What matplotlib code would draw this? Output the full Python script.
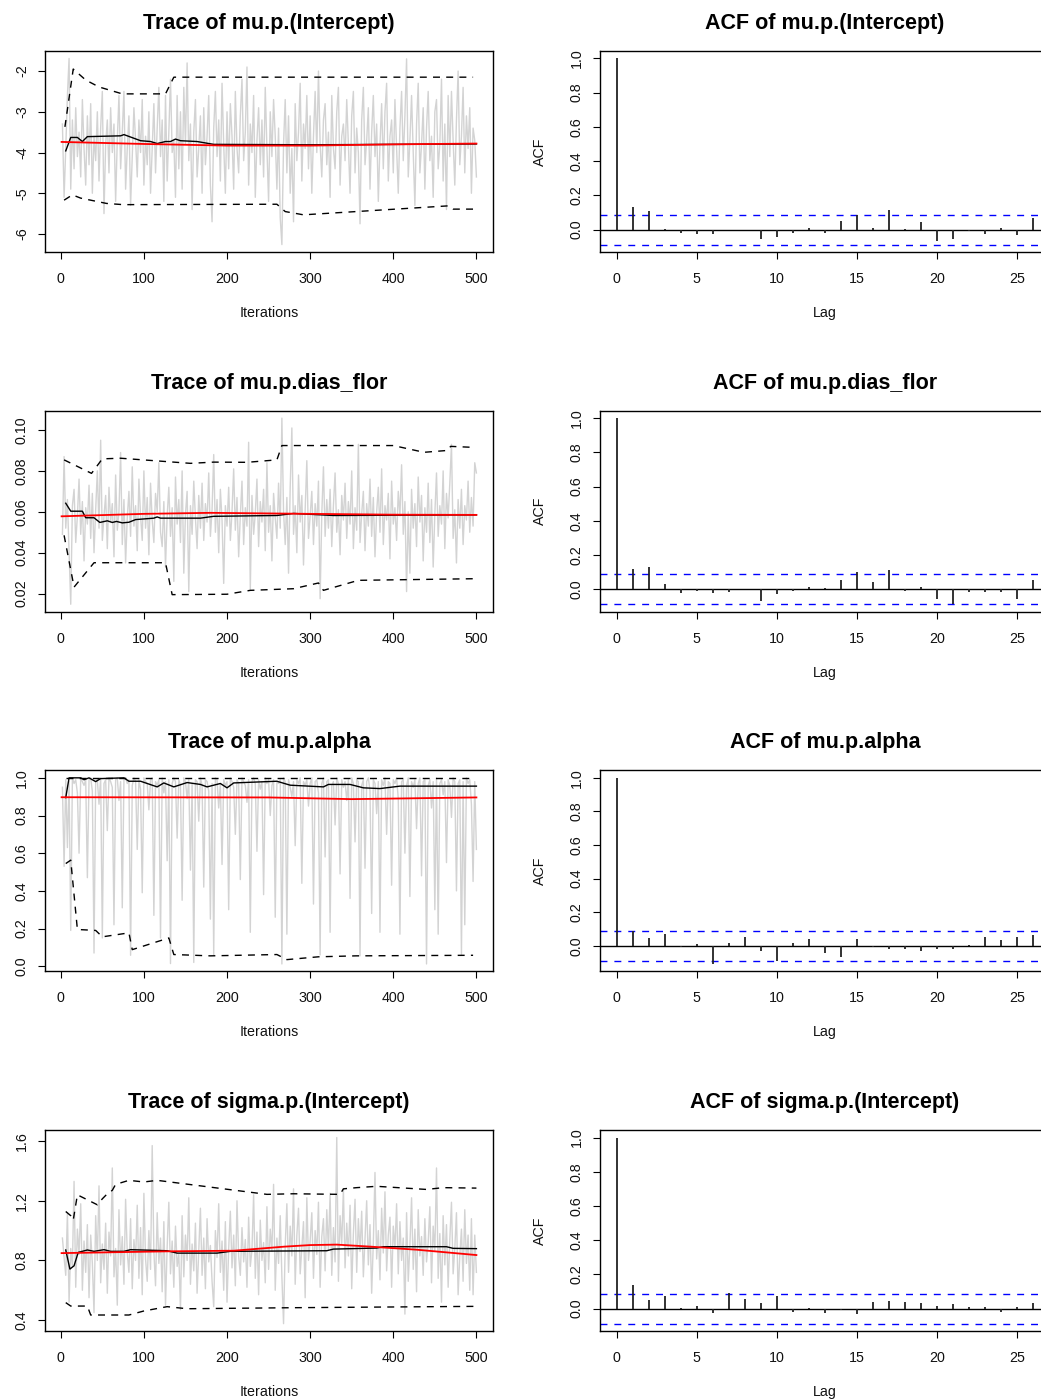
import numpy as np
import matplotlib
matplotlib.use("Agg")
import matplotlib.pyplot as plt

plt.rcParams['font.family'] = ['Liberation Sans', 'DejaVu Sans']
plt.rcParams['axes.unicode_minus'] = False

# ---------------- data ----------------
iters = list(range(2, 501, 2))  # sampled iterations (every 2nd of 500)

titles_trace = ["Trace of mu.p.(Intercept)", "Trace of mu.p.dias_flor",
                "Trace of mu.p.alpha", "Trace of sigma.p.(Intercept)"]
titles_acf = ["ACF of mu.p.(Intercept)", "ACF of mu.p.dias_flor",
              "ACF of mu.p.alpha", "ACF of sigma.p.(Intercept)"]

trace_int = [
    -3.3, -5.1, -3.9, -2.6, -1.69, -4.9, -3.2, -4.4, -2.9, -4.1,
    -3.5, -4.6, -2.7, -3.9, -4.8, -3.1, -4.3, -2.8, -5.0, -3.6,
    -4.2, -3.0, -4.7, -3.4, -2.5, -5.5, -3.8, -3.2, -4.5, -2.9,
    -4.0, -3.3, -5.2, -3.7, -2.6, -4.4, -3.5, -2.5, -4.9, -3.9,
    -3.1, -5.3, -4.1, -2.9, -3.7, -4.6, -3.2, -4.0, -2.7, -4.8,
    -3.6, -4.3, -3.0, -5.0, -3.9, -2.8, -4.5, -3.4, -2.4, -4.1,
    -3.2, -5.2, -2.6, -4.7, -3.5, -2.2, -4.0, -3.7, -5.1, -2.6,
    -4.4, -3.0, -4.9, -2.4, -3.8, -1.8, -4.2, -3.3, -5.4, -3.5,
    -2.7, -4.6, -3.9, -3.1, -5.0, -2.9, -4.3, -3.6, -2.6, -4.8,
    -5.7, -3.4, -2.5, -4.1, -3.2, -4.7, -2.3, -3.8, -5.0, -3.0,
    -4.4, -2.8, -3.6, -4.9, -2.5, -3.9, -4.5, -3.1, -2.2, -4.2,
    -3.5, -1.9, -4.8, -3.3, -4.0, -2.6, -5.1, -3.7, -2.9, -4.3,
    -3.2, -4.6, -2.4, -3.9, -5.2, -3.0, -4.1, -2.7, -3.6, -4.9,
    -3.4, -5.6, -6.26, -3.8, -2.7, -4.5, -3.1, -5.0, -3.9, -5.7,
    -2.8, -4.2, -3.5, -2.3, -4.7, -3.3, -3.9, -2.6, -4.4, -3.1,
    -5.0, -3.6, -2.5, -4.0, -2.0, -3.8, -4.6, -3.2, -2.8, -4.3,
    -3.5, -5.1, -2.6, -3.9, -4.4, -3.0, -2.4, -4.8, -3.6, -3.3,
    -4.2, -2.7, -3.8, -5.0, -3.1, -2.5, -4.5, -3.4, -4.0, -5.75,
    -3.2, -2.4, -4.3, -3.7, -2.9, -4.9, -3.5, -2.6, -4.1, -3.3,
    -5.2, -3.8, -2.8, -4.4, -3.0, -2.3, -4.7, -3.6, -3.2, -4.5,
    -2.7, -3.9, -5.0, -3.4, -2.5, -4.2, -3.1, -1.7, -4.6, -3.7,
    -2.6, -4.0, -5.3, -3.3, -2.3, -4.5, -3.8, -2.9, -4.9, -3.4,
    -2.5, -4.2, -3.6, -5.1, -3.0, -2.7, -4.4, -3.8, -2.2, -4.7,
    -3.3, -5.4, -2.6, -4.1, -2.5, -3.7, -4.8, -3.2, -2.0, -4.3,
    -3.6, -2.4, -4.5, -3.1, -3.9, -2.9, -5.0, -3.4, -3.7, -4.6,
]

trace_dias = [
    0.049, 0.087, 0.052, 0.066, 0.041, 0.0148, 0.063, 0.071, 0.045, 0.058,
    0.076, 0.049, 0.065, 0.036, 0.062, 0.054, 0.073, 0.047, 0.069, 0.040,
    0.061, 0.080, 0.052, 0.095, 0.046, 0.058, 0.068, 0.042, 0.072, 0.055,
    0.064, 0.038, 0.078, 0.051, 0.060, 0.089, 0.044, 0.066, 0.035, 0.057,
    0.070, 0.048, 0.082, 0.053, 0.063, 0.041, 0.076, 0.058, 0.046, 0.080,
    0.052, 0.067, 0.039, 0.074, 0.056, 0.045, 0.069, 0.060, 0.084, 0.050,
    0.043, 0.065, 0.033, 0.058, 0.072, 0.048, 0.062, 0.026, 0.077, 0.054,
    0.066, 0.045, 0.080, 0.030, 0.059, 0.070, 0.021, 0.063, 0.049, 0.075,
    0.057, 0.042, 0.068, 0.052, 0.074, 0.046, 0.064, 0.055, 0.079, 0.048,
    0.061, 0.088, 0.050, 0.066, 0.040, 0.071, 0.056, 0.025, 0.063, 0.053,
    0.072, 0.046, 0.060, 0.081, 0.051, 0.067, 0.038, 0.058, 0.075, 0.044,
    0.062, 0.053, 0.094, 0.022, 0.068, 0.049, 0.059, 0.076, 0.043, 0.065,
    0.055, 0.071, 0.041, 0.084, 0.050, 0.063, 0.036, 0.069, 0.057, 0.047,
    0.074, 0.052, 0.1058, 0.060, 0.044, 0.067, 0.030, 0.072, 0.101, 0.049,
    0.063, 0.040, 0.078, 0.055, 0.068, 0.034, 0.061, 0.085, 0.047, 0.058,
    0.070, 0.044, 0.064, 0.053, 0.075, 0.0175, 0.059, 0.082, 0.048, 0.066,
    0.052, 0.071, 0.043, 0.063, 0.079, 0.050, 0.061, 0.039, 0.068, 0.056,
    0.074, 0.047, 0.065, 0.054, 0.080, 0.042, 0.062, 0.051, 0.093, 0.045,
    0.059, 0.070, 0.041, 0.064, 0.053, 0.076, 0.048, 0.067, 0.038, 0.060,
    0.072, 0.050, 0.081, 0.044, 0.063, 0.056, 0.069, 0.037, 0.075, 0.054,
    0.062, 0.046, 0.070, 0.058, 0.083, 0.049, 0.065, 0.021, 0.060, 0.030,
    0.071, 0.052, 0.064, 0.043, 0.077, 0.055, 0.068, 0.036, 0.062, 0.050,
    0.074, 0.045, 0.066, 0.033, 0.059, 0.079, 0.048, 0.063, 0.054, 0.080,
    0.042, 0.069, 0.057, 0.074, 0.093, 0.047, 0.061, 0.035, 0.066, 0.052,
    0.071, 0.044, 0.063, 0.056, 0.075, 0.050, 0.067, 0.053, 0.084, 0.079,
]

trace_alpha = [
    0.95, 0.53, 0.99, 0.63, 0.98, 0.19, 1.00, 0.97, 0.99, 0.92,
    0.60, 1.00, 0.98, 0.96, 0.99, 0.47, 0.99, 1.00, 0.93, 0.07,
    0.98, 0.99, 0.86, 1.00, 0.15, 0.97, 0.99, 0.72, 1.00, 0.98,
    0.95, 0.22, 0.99, 1.00, 0.88, 0.98, 0.31, 0.99, 1.00, 0.97,
    0.99, 0.058, 0.96, 1.00, 0.98, 0.62, 0.99, 0.94, 0.39, 1.00,
    0.98, 0.97, 0.83, 0.99, 1.00, 0.27, 0.98, 0.96, 0.99, 0.15,
    1.00, 0.92, 0.98, 0.56, 0.99, 0.014, 0.97, 1.00, 0.98, 0.68,
    0.99, 0.96, 0.35, 1.00, 0.98, 0.89, 0.99, 0.51, 0.97, 0.02,
    0.99, 0.98, 0.77, 1.00, 0.96, 0.42, 0.99, 0.98, 0.93, 0.25,
    0.97, 0.06, 1.00, 0.99, 0.84, 0.97, 0.54, 0.99, 0.96, 0.98,
    0.30, 1.00, 0.98, 0.95, 0.70, 0.99, 0.97, 0.46, 1.00, 0.98,
    0.96, 0.87, 0.99, 0.18, 0.98, 1.00, 0.97, 0.61, 0.99, 0.94,
    0.98, 0.38, 1.00, 0.97, 0.99, 0.80, 0.96, 0.99, 0.26, 0.98,
    0.97, 0.99, 0.012, 1.00, 0.98, 0.17, 0.99, 0.95, 0.90, 0.98,
    0.64, 0.99, 0.97, 1.00, 0.44, 0.98, 0.96, 0.99, 0.85, 0.97,
    1.00, 0.33, 0.98, 0.99, 0.92, 0.06, 0.97, 1.00, 0.58, 0.98,
    0.99, 0.18, 0.96, 0.98, 0.75, 1.00, 0.97, 0.49, 0.99, 0.95,
    0.98, 0.88, 0.99, 0.36, 1.00, 0.97, 0.66, 0.99, 0.98, 0.055,
    0.96, 0.99, 0.52, 0.98, 1.00, 0.93, 0.28, 0.99, 0.97, 0.81,
    0.98, 0.18, 0.99, 0.96, 1.00, 0.70, 0.98, 0.97, 0.43, 0.99,
    0.97, 1.00, 0.89, 0.17, 0.98, 0.99, 0.60, 0.96, 1.00, 0.37,
    0.98, 0.95, 0.99, 0.73, 0.97, 1.00, 0.48, 0.98, 0.99, 0.012,
    0.96, 0.99, 0.84, 0.98, 0.30, 1.00, 0.17, 0.97, 0.99, 0.91,
    0.98, 0.55, 0.99, 0.96, 0.79, 1.00, 0.98, 0.40, 0.97, 0.99,
    0.06, 0.98, 0.22, 1.00, 0.97, 0.99, 0.86, 0.45, 0.98, 0.62,
]

trace_sigma = [
    0.95, 0.82, 0.70, 1.12, 0.52, 0.88, 0.76, 1.33, 0.62, 1.01,
    0.84, 1.18, 0.60, 0.93, 0.72, 1.04, 0.55, 0.97, 0.78, 0.45,
    1.10, 0.80, 1.30, 0.65, 0.91, 0.74, 1.05, 0.58, 0.99, 0.83,
    1.42, 0.69, 0.88, 0.50, 1.14, 0.77, 0.96, 0.64, 1.21, 0.85,
    0.72, 1.08, 0.61, 0.94, 0.80, 1.17, 0.68, 1.02, 0.57, 1.25,
    0.81, 0.66, 1.00, 0.74, 1.57, 0.86, 0.63, 1.12, 0.78, 0.95,
    0.59, 1.06, 0.50, 0.89, 1.19, 0.71, 0.93, 0.62, 1.03, 0.76,
    0.84, 0.47, 1.10, 0.69, 0.97, 0.80, 1.22, 0.64, 0.91, 0.73,
    1.05, 0.58, 0.87, 1.15, 0.70, 0.95, 0.61, 1.08, 0.79, 0.90,
    0.66, 0.49, 1.00, 0.82, 1.18, 0.72, 0.93, 0.60, 1.06, 0.52,
    0.88, 1.13, 0.75, 0.97, 0.63, 1.20, 0.83, 0.70, 1.02, 0.79,
    0.94, 0.62, 1.09, 0.76, 0.87, 1.24, 0.68, 0.99, 0.57, 1.07,
    0.80, 0.92, 0.65, 1.16, 0.74, 1.01, 0.86, 1.31, 0.60, 0.95,
    0.78, 1.10, 0.69, 0.376, 0.90, 1.18, 0.72, 1.03, 0.83, 1.28,
    0.64, 0.97, 1.15, 0.71, 0.89, 1.06, 0.55, 1.22, 0.80, 0.93,
    1.12, 0.68, 1.00, 0.84, 1.19, 0.62, 0.96, 1.08, 0.73, 1.14,
    0.87, 1.25, 0.70, 1.02, 0.79, 1.624, 0.66, 1.10, 0.91, 1.28,
    0.75, 1.05, 0.83, 1.17, 0.61, 0.98, 1.21, 0.72, 1.08, 0.86,
    1.13, 0.69, 0.95, 1.20, 0.77, 1.04, 0.58, 0.92, 1.39, 0.81,
    1.00, 0.67, 1.15, 0.85, 1.26, 0.73, 0.97, 1.09, 0.62, 1.03,
    0.88, 1.18, 0.71, 1.06, 0.80, 0.95, 0.44, 1.12, 0.66, 0.90,
    1.22, 0.74, 1.01, 0.59, 1.14, 0.83, 0.96, 0.70, 1.08, 0.79,
    0.92, 1.16, 0.65, 1.03, 0.86, 1.42, 0.68, 0.98, 0.52, 1.10,
    0.77, 1.04, 0.62, 0.94, 1.19, 0.71, 0.88, 1.12, 0.57, 0.83,
    1.01, 0.66, 1.14, 0.78, 0.97, 0.60, 1.08, 0.57, 0.97, 0.72,
]

# cumulative quantile curves (2.5%, 50%, 97.5%) and smooth (red)
int_hi_it = [5, 15, 30, 46, 74, 126, 136, 496]
int_hi = [-3.37, -1.95, -2.22, -2.39, -2.56, -2.56, -2.15, -2.15]
int_lo_it = [4, 14, 24, 55, 75, 260, 270, 292, 466, 472, 496]
int_lo = [-5.17, -5.04, -5.12, -5.25, -5.28, -5.27, -5.45, -5.53, -5.31, -5.39, -5.39]
int_med_it = [6, 12, 20, 26, 32, 72, 76, 96, 108, 116, 126, 132, 138, 144, 164, 184, 300, 500]
int_med = [-3.96, -3.63, -3.63, -3.73, -3.61, -3.59, -3.56, -3.71, -3.73, -3.78,
           -3.73, -3.73, -3.67, -3.71, -3.73, -3.80, -3.81, -3.79]
int_red_it = [1, 100, 200, 300, 400, 500]
int_red = [-3.74, -3.79, -3.83, -3.83, -3.80, -3.78]

dias_hi_it = [4, 37, 50, 72, 156, 184, 224, 260, 266, 400, 437, 465, 469, 497]
dias_hi = [0.0854, 0.0788, 0.0859, 0.0862, 0.0837, 0.0843, 0.0842, 0.0854, 0.0924,
           0.0924, 0.0891, 0.0900, 0.0920, 0.0915]
dias_lo_it = [4, 16, 40, 126, 134, 200, 228, 280, 310, 316, 358, 500]
dias_lo = [0.0485, 0.0232, 0.0351, 0.0351, 0.0195, 0.0197, 0.0216, 0.0224, 0.0252,
           0.0216, 0.0265, 0.0273]
dias_med_it = [6, 12, 26, 30, 40, 47, 56, 62, 67, 74, 82, 90, 112, 116, 120, 168, 184,
               260, 280, 328, 500]
dias_med = [0.0642, 0.0603, 0.0603, 0.0571, 0.0571, 0.0548, 0.0556, 0.0548, 0.0553,
            0.0546, 0.0549, 0.0562, 0.0569, 0.0575, 0.0569, 0.0569, 0.0578, 0.0582,
            0.0592, 0.0582, 0.0585]
dias_red_it = [1, 100, 180, 300, 400, 500]
dias_red = [0.0578, 0.0590, 0.0595, 0.0590, 0.0586, 0.0585]

alpha_hi_it = [6, 496]
alpha_hi = [1.0, 1.0]
alpha_lo_it = [6, 12, 20, 42, 50, 82, 86, 130, 136, 180, 260, 272, 310, 355, 496]
alpha_lo = [0.545, 0.563, 0.195, 0.19, 0.156, 0.177, 0.088, 0.15, 0.062, 0.055,
            0.062, 0.035, 0.05, 0.055, 0.058]
alpha_med_it = [6, 10, 24, 28, 34, 42, 48, 76, 82, 96, 116, 124, 136, 152, 168, 176,
                192, 200, 208, 260, 276, 316, 322, 348, 364, 384, 408, 500]
alpha_med = [0.895, 1.0, 1.0, 0.99, 1.0, 0.98, 0.996, 1.0, 0.982, 0.982, 0.952, 0.973,
             0.952, 0.975, 0.965, 0.952, 0.97, 0.947, 0.973, 0.982, 0.961, 0.952,
             0.965, 0.965, 0.947, 0.943, 0.956, 0.956]
alpha_red_it = [1, 250, 350, 500]
alpha_red = [0.897, 0.896, 0.887, 0.896]

sig_hi_it = [6, 12, 15, 20, 44, 50, 56, 62, 66, 82, 100, 116, 168, 248, 280, 336, 340,
             356, 380, 440, 460, 500]
sig_hi = [1.128, 1.10, 1.07, 1.24, 1.173, 1.213, 1.247, 1.27, 1.31, 1.337, 1.326, 1.337,
          1.30, 1.243, 1.247, 1.243, 1.28, 1.288, 1.297, 1.276, 1.288, 1.285]
sig_lo_it = [6, 12, 32, 36, 82, 100, 128, 152, 280, 500]
sig_lo = [0.517, 0.494, 0.494, 0.434, 0.434, 0.461, 0.49, 0.476, 0.483, 0.492]
sig_med_it = [6, 11, 16, 21, 32, 40, 52, 60, 76, 84, 128, 140, 172, 188, 204, 320, 328,
              380, 388, 464, 472, 500]
sig_med = [0.87, 0.742, 0.764, 0.854, 0.87, 0.861, 0.872, 0.861, 0.861, 0.872, 0.865,
           0.849, 0.849, 0.849, 0.861, 0.865, 0.876, 0.883, 0.892, 0.892, 0.881, 0.879]
sig_red_it = [1, 128, 208, 268, 300, 332, 368, 428, 500]
sig_red = [0.849, 0.861, 0.865, 0.892, 0.903, 0.906, 0.894, 0.872, 0.836]

lags = list(range(0, 27))
acf_int = [1.0, 0.129, 0.109, 0.006, -0.02, -0.025, -0.028, -0.002, -0.003, -0.058,
           -0.045, -0.02, 0.01, -0.018, 0.05, 0.084, 0.012, 0.117, 0.002, 0.042,
           -0.068, -0.058, -0.01, -0.025, 0.012, -0.03, 0.065]
acf_dias = [1.0, 0.119, 0.129, 0.029, -0.022, -0.01, -0.02, -0.015, 0.002, -0.07,
            -0.03, -0.012, 0.015, 0.008, 0.053, 0.1, 0.04, 0.115, -0.01, 0.015,
            -0.058, -0.088, -0.018, -0.015, -0.016, -0.055, 0.055]
acf_alpha = [1.0, 0.087, 0.048, 0.069, -0.01, 0.012, -0.108, 0.015, 0.05, -0.03,
             -0.088, 0.015, 0.042, -0.04, -0.065, 0.04, -0.01, -0.018, -0.018, -0.028,
             -0.02, -0.02, 0.005, 0.052, 0.033, 0.055, 0.063]
acf_sigma = [1.0, 0.137, 0.051, 0.072, 0.005, 0.015, -0.025, 0.094, 0.059, 0.033,
             0.072, -0.018, 0.005, -0.028, -0.005, -0.03, 0.04, 0.045, 0.04, 0.035,
             0.018, 0.025, 0.008, 0.01, -0.022, 0.01, 0.035]
n_samples = 500

trace_yticks = [[-6, -5, -4, -3, -2],
                [0.02, 0.04, 0.06, 0.08, 0.10],
                [0.0, 0.2, 0.4, 0.6, 0.8, 1.0],
                [0.4, 0.8, 1.2, 1.6]]
trace_ylabels = [["-6", "-5", "-4", "-3", "-2"],
                 ["0.02", "0.04", "0.06", "0.08", "0.10"],
                 ["0.0", "0.2", "0.4", "0.6", "0.8", "1.0"],
                 ["0.4", "0.8", "1.2", "1.6"]]
acf_yticks = [0.0, 0.2, 0.4, 0.6, 0.8, 1.0]
acf_ylabels = ["0.0", "0.2", "0.4", "0.6", "0.8", "1.0"]
trace_xticks = [0, 100, 200, 300, 400, 500]
acf_xticks = [0, 5, 10, 15, 20, 25]

traces = [trace_int, trace_dias, trace_alpha, trace_sigma]
curves = [
    (int_hi_it, int_hi, int_lo_it, int_lo, int_med_it, int_med, int_red_it, int_red),
    (dias_hi_it, dias_hi, dias_lo_it, dias_lo, dias_med_it, dias_med, dias_red_it, dias_red),
    (alpha_hi_it, alpha_hi, alpha_lo_it, alpha_lo, alpha_med_it, alpha_med, alpha_red_it, alpha_red),
    (sig_hi_it, sig_hi, sig_lo_it, sig_lo, sig_med_it, sig_med, sig_red_it, sig_red),
]
acfs = [acf_int, acf_dias, acf_alpha, acf_sigma]

# ---------------- figure ----------------
W, H = 1041, 1400
fig = plt.figure(figsize=(W / 100, H / 100), dpi=100)

def px_axes(left, top, right, bottom):
    return fig.add_axes([left / W, 1 - bottom / H, (right - left) / W, (bottom - top) / H])

TICK_FS = 10.3
TITLE_FS = 15.5

def style(ax):
    for s in ax.spines.values():
        s.set_linewidth(1.0)
        s.set_color('black')
    ax.tick_params(direction='out', length=5, width=0.8, color='black',
                   labelsize=TICK_FS, labelcolor='#111111')
    ax.tick_params(axis='x', pad=9.3)
    ax.tick_params(axis='y', pad=6.6, labelrotation=90)

def r_lim(lo, hi):
    pad = 0.04 * (hi - lo)
    return lo - pad, hi + pad

for r in range(4):
    top = 51 + 359.7 * r
    bottom = top + 201

    # ---- trace panel ----
    ax = px_axes(45, top, 493, bottom)
    ax.plot(iters, traces[r], color='#d3d3d3', lw=1.0, zorder=1)
    hi_it, hi, lo_it, lo, med_it, med, red_it, red = curves[r]
    ax.plot(hi_it, hi, color='black', lw=1.0, dashes=(5, 4.5), zorder=2)
    ax.plot(lo_it, lo, color='black', lw=1.0, dashes=(5, 4.5), zorder=2)
    ax.plot(med_it, med, color='black', lw=1.0, zorder=3)
    ax.plot(red_it, red, color='red', lw=1.3, zorder=4)
    ax.set_xlim(*r_lim(1, 500))
    ax.set_ylim(*r_lim(min(traces[r]), max(traces[r])))
    ax.set_xticks(trace_xticks)
    ax.set_xticklabels([str(v) for v in trace_xticks])
    ax.set_yticks(trace_yticks[r])
    ax.set_yticklabels(trace_ylabels[r])
    style(ax)
    for lab in ax.get_yticklabels():
        lab.set_va('center')
    ax.set_title(titles_trace[r], fontsize=TITLE_FS, fontweight='bold', pad=15.8)
    fig.text(269 / W, 1 - (bottom + 65) / H, "Iterations", ha='center', va='baseline',
             fontsize=TICK_FS, color='#111111')

    # ---- ACF panel ----
    ax2 = px_axes(600, top, 1050, bottom)
    ci = 1.96 / np.sqrt(n_samples)
    ax2.vlines(lags, 0, acfs[r], colors='#222222', lw=1.3, zorder=3)
    ax2.axhline(0, color='black', lw=1.0, zorder=2)
    ax2.axhline(ci, color='blue', lw=1.0, dashes=(5, 5), zorder=2)
    ax2.axhline(-ci, color='blue', lw=1.0, dashes=(5, 5), zorder=2)
    ax2.set_xlim(*r_lim(0, 26))
    ax2.set_ylim(*r_lim(min(min(acfs[r]), -ci), max(max(acfs[r]), ci)))
    ax2.set_xticks(acf_xticks)
    ax2.set_xticklabels([str(v) for v in acf_xticks])
    ax2.set_yticks(acf_yticks)
    ax2.set_yticklabels(acf_ylabels)
    style(ax2)
    for lab in ax2.get_yticklabels():
        lab.set_va('center')
    ax2.set_title(titles_acf[r], fontsize=TITLE_FS, fontweight='bold', pad=15.8)
    fig.text(825 / W, 1 - (bottom + 65) / H, "Lag", ha='center', va='baseline',
             fontsize=TICK_FS, color='#111111')
    fig.text(540 / W, 1 - (top + 100.5) / H, "ACF", ha='center', va='center',
             rotation=90, fontsize=TICK_FS, color='#111111')

fig.savefig("out.png", dpi=100)
